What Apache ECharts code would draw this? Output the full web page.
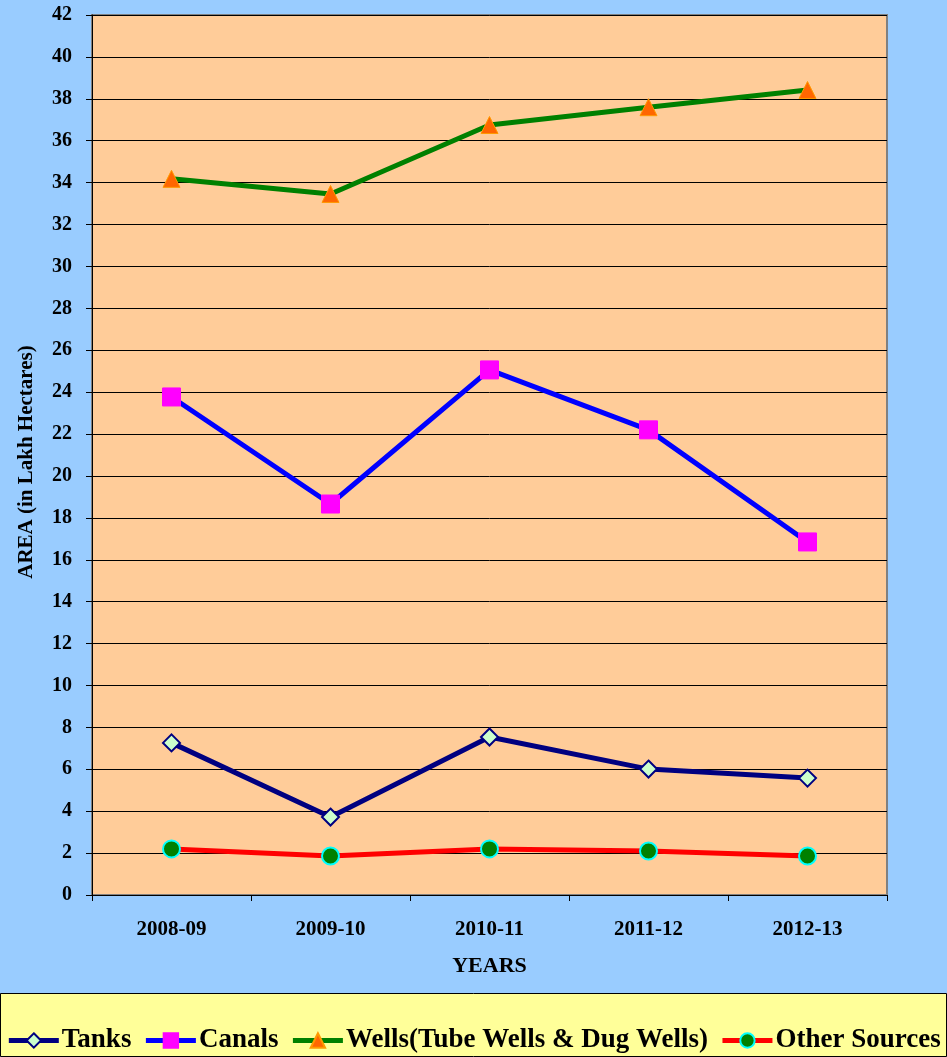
<!DOCTYPE html>
<html>
<head>
<meta charset="utf-8">
<script src="https://cdn.jsdelivr.net/npm/echarts@6/dist/echarts.min.js"></script>
<style>
  html, body { margin: 0; padding: 0; background: #99CCFF; }
  #myChart { width: 947px; height: 1057px; }
</style>
</head>
<body>
<div id="myChart"></div>
<script>
// 年份
const years = ['2008-09', '2009-10', '2010-11', '2011-12', '2012-13']
// 各灌溉來源面積 (in Lakh Hectares)
const tanks = [7.26, 3.72, 7.54, 6.01, 5.58]
const canals = [23.77, 18.66, 25.06, 22.2, 16.85]
const wells = [34.18, 33.46, 36.75, 37.6, 38.42]
const otherSources = [2.2, 1.86, 2.2, 2.1, 1.86]

const font = 'Liberation Serif, Times New Roman, serif'

const myChart = echarts.init(document.getElementById('myChart'))

const myOption = {
  backgroundColor: '#99CCFF',
  textStyle: { fontFamily: font },
  grid: {
    left: 92,
    right: 60,
    top: 15,
    bottom: 162,
    show: true,
    backgroundColor: '#FFCC99',
    borderColor: '#808080',
    borderWidth: 2
  },
  graphic: [
    {
      // 圖例底框
      type: 'rect',
      left: 0,
      top: 993,
      z: -1,
      shape: { width: 946, height: 63 },
      style: { fill: '#FFFF99', stroke: '#000', lineWidth: 1 }
    }
  ],
  legend: {
    top: 1027,
    left: 'center',
    itemWidth: 50,
    itemHeight: 18,
    itemGap: 12,
    padding: 0,
    lineStyle: { width: 5 },
    textStyle: { fontFamily: font, fontWeight: 'bold', fontSize: 27, color: '#000', padding: [0, 0, 0, -2] },
    data: ['Tanks', 'Canals', 'Wells(Tube Wells & Dug Wells)', 'Other Sources']
  },
  xAxis: {
    type: 'category',
    data: years,
    boundaryGap: true,
    name: 'YEARS',
    nameLocation: 'middle',
    nameGap: 60,
    nameTextStyle: { fontFamily: font, fontWeight: 'bold', fontSize: 22, color: '#000' },
    axisLine: { lineStyle: { color: '#000', width: 1 } },
    axisTick: { show: true, length: 6, lineStyle: { color: '#000' } },
    axisLabel: { fontFamily: font, fontWeight: 'bold', fontSize: 21, color: '#000', margin: 24 },
    splitLine: { show: false }
  },
  yAxis: {
    type: 'value',
    min: 0,
    max: 42,
    interval: 2,
    name: 'AREA (in Lakh Hectares)',
    nameLocation: 'middle',
    nameRotate: 90,
    nameGap: 55,
    nameTextStyle: { fontFamily: font, fontWeight: 'bold', fontSize: 21, color: '#000', padding: [0, 14, 0, 0] },
    axisLine: { show: true, lineStyle: { color: '#000', width: 1 } },
    axisTick: { show: true, length: 6, lineStyle: { color: '#000' } },
    axisLabel: { fontFamily: font, fontWeight: 'bold', fontSize: 20, color: '#000', margin: 20 },
    splitLine: { show: true, lineStyle: { color: '#000', width: 1 } }
  },
  series: [
    {
      name: 'Tanks',
      type: 'line',
      data: tanks,
      symbol: 'diamond',
      symbolSize: 17,
      lineStyle: { color: '#000080', width: 5 },
      itemStyle: { color: '#CCFFCC', borderColor: '#000080', borderWidth: 2 }
    },
    {
      name: 'Canals',
      type: 'line',
      data: canals,
      symbol: 'rect',
      symbolSize: 18,
      lineStyle: { color: '#0000FF', width: 5 },
      itemStyle: { color: '#FF00FF', borderColor: '#FF00FF', borderWidth: 1 }
    },
    {
      name: 'Wells(Tube Wells & Dug Wells)',
      type: 'line',
      data: wells,
      symbol: 'triangle',
      symbolSize: 17,
      lineStyle: { color: '#008000', width: 5 },
      itemStyle: { color: '#FF6600', borderColor: '#FF9900', borderWidth: 1 }
    },
    {
      name: 'Other Sources',
      type: 'line',
      data: otherSources,
      symbol: 'circle',
      symbolSize: 17,
      lineStyle: { color: '#FF0000', width: 5 },
      itemStyle: { color: '#008000', borderColor: '#00FFFF', borderWidth: 2 }
    }
  ]
}

myChart.setOption(myOption)
</script>
</body>
</html>
